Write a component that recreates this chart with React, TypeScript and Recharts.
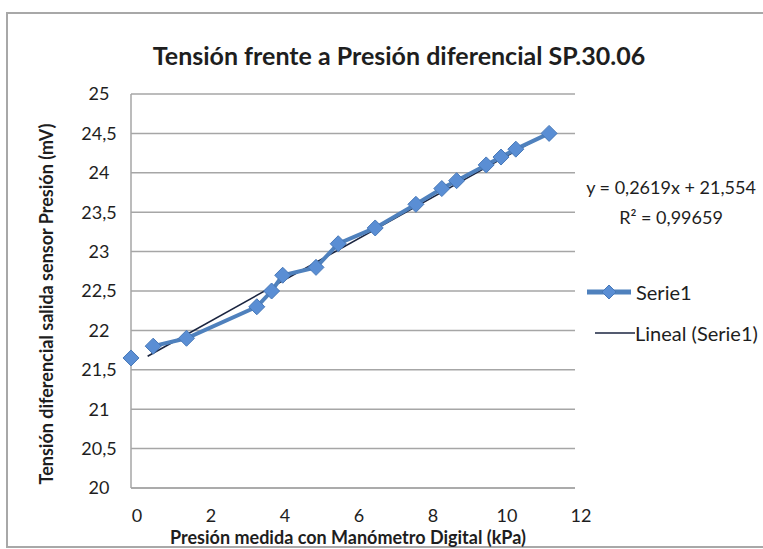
import React from "react"
import {
  ScatterChart, Scatter, XAxis, YAxis, CartesianGrid, ReferenceLine,
} from "recharts"

// Presión (kPa) vs Tensión (mV)
const firstPoint = [{ x: 0, y: 21.65 }]
const presion = [0.6, 1.5, 3.4, 3.8, 4.1, 5.0, 5.6, 6.6, 7.7, 8.4, 8.8, 9.6, 10.0, 10.4, 11.3]
const tension = [21.8, 21.9, 22.3, 22.5, 22.7, 22.8, 23.1, 23.3, 23.6, 23.8, 23.9, 24.1, 24.2, 24.3, 24.5]
const xTicks = [0, 2, 4, 6, 8, 10, 12]
const yTicks = [20, 20.5, 21, 21.5, 22, 22.5, 23, 23.5, 24, 24.5, 25]

// trendline shown on the chart
const slope = 0.2619
const intercept = 21.554
const trendFrom = 0.45
const trendTo = 11.3

const BLUE = "#4f81bd"
const FONT = "Lato, 'Open Sans', sans-serif"
const INK = "#1e1e1e"

const serie1 = presion.map((x, i) => ({ x, y: tension[i] }))
const comma = (v: number) => String(v).replace(".", ",")

function Diamond({ cx, cy }: any) {
  if (cx == null || cy == null) return null
  const r = 8
  return (
    <path
      d={`M${cx},${cy - r} L${cx + r},${cy} L${cx},${cy + r} L${cx - r},${cy} Z`}
      fill="#5a8ed4"
      stroke="#4778b8"
      strokeWidth={1}
    />
  )
}

// excel centres the value labels in the axis gutter
function YTick({ x, y, payload }: any) {
  return (
    <text x={x - 18} y={y} dy="0.35em" textAnchor="middle" fill={INK} fontSize={18} fontFamily={FONT}>
      {comma(payload.value)}
    </text>
  )
}

export default function App() {
  return (
    <div style={{ position: "relative", width: 763, height: 549, overflow: "hidden", background: "#fff", fontFamily: FONT }}>
      <style>{`body{margin:0}`}</style>
      {/* chart frame */}
      <div style={{ position: "absolute", left: 6, top: 12, width: 820, height: 532, border: "2px solid #a8a8a8" }} />

      <ScatterChart width={763} height={549} margin={{ top: 94, right: 188, bottom: 31, left: 71 }} style={{ position: "absolute", left: 0, top: 0 }}>
        <CartesianGrid vertical={false} stroke="#a6a6a6" strokeWidth={1.5} />
        <XAxis
          type="number"
          dataKey="x"
          domain={[0, 12]}
          ticks={xTicks}
          height={30}
          tickSize={0}
          tickMargin={21}
          axisLine={{ stroke: "#a6a6a6", strokeWidth: 1.5 }}
          tick={{ fill: INK, fontSize: 18, fontFamily: FONT, dx: 6 }}
        />
        <YAxis
          type="number"
          dataKey="y"
          domain={[20, 25]}
          ticks={yTicks}
          width={60}
          tickSize={0}
          tickMargin={14}
          axisLine={{ stroke: "#a6a6a6", strokeWidth: 1.5 }}
          tick={<YTick />}
        />
        <Scatter data={firstPoint} shape={<Diamond />} isAnimationActive={false} />
        <Scatter
          data={serie1}
          line={{ stroke: BLUE, strokeWidth: 4 }}
          shape={<Diamond />}
          isAnimationActive={false}
        />
        <ReferenceLine
          segment={[
            { x: trendFrom, y: slope * trendFrom + intercept },
            { x: trendTo, y: slope * trendTo + intercept },
          ]}
          stroke="#1b2540"
          strokeWidth={1.6}
        />
      </ScatterChart>

      {/* title */}
      <div style={{ position: "absolute", left: 100, width: 598, top: 40, textAlign: "center", fontSize: 25, fontWeight: 700, color: INK, whiteSpace: "nowrap" }}>
        Tensión frente a Presión diferencial SP.30.06
      </div>

      {/* axis titles */}
      <div style={{ position: "absolute", left: 95, width: 506, top: 526, textAlign: "center", fontSize: 18, fontWeight: 700, color: INK, whiteSpace: "nowrap" }}>
        Presión medida con Manómetro Digital (kPa)
      </div>
      <div style={{
        position: "absolute", left: 46 - 230, top: 304 - 11, width: 460, height: 22, textAlign: "center",
        transform: "rotate(-90deg)", fontSize: 18, fontWeight: 700, color: INK, whiteSpace: "nowrap", lineHeight: "22px",
      }}>
        Tensión diferencial salida sensor Presión (mV)
      </div>

      {/* trendline equation */}
      <div style={{ position: "absolute", left: 576, width: 190, top: 172, textAlign: "center", fontSize: 18, color: INK, lineHeight: "30px", whiteSpace: "nowrap" }}>
        <div>y = 0,2619x + 21,554</div>
        <div>R² = 0,99659</div>
      </div>

      {/* legend */}
      <svg style={{ position: "absolute", left: 580, top: 275 }} width={60} height={70}>
        <line x1={7} y1={17} x2={51} y2={17} stroke={BLUE} strokeWidth={5} />
        <path d="M29,10 L36,17 L29,24 L22,17 Z" fill="#5a8ed4" stroke="#4778b8" />
        <line x1={15} y1={58} x2={55} y2={58} stroke="#1b2540" strokeWidth={1.6} />
      </svg>
      <div style={{ position: "absolute", left: 636, top: 280, fontSize: 20, color: INK, whiteSpace: "nowrap" }}>Serie1</div>
      <div style={{ position: "absolute", left: 635, top: 321, fontSize: 20, color: INK, whiteSpace: "nowrap" }}>Lineal (Serie1)</div>
    </div>
  )
}
